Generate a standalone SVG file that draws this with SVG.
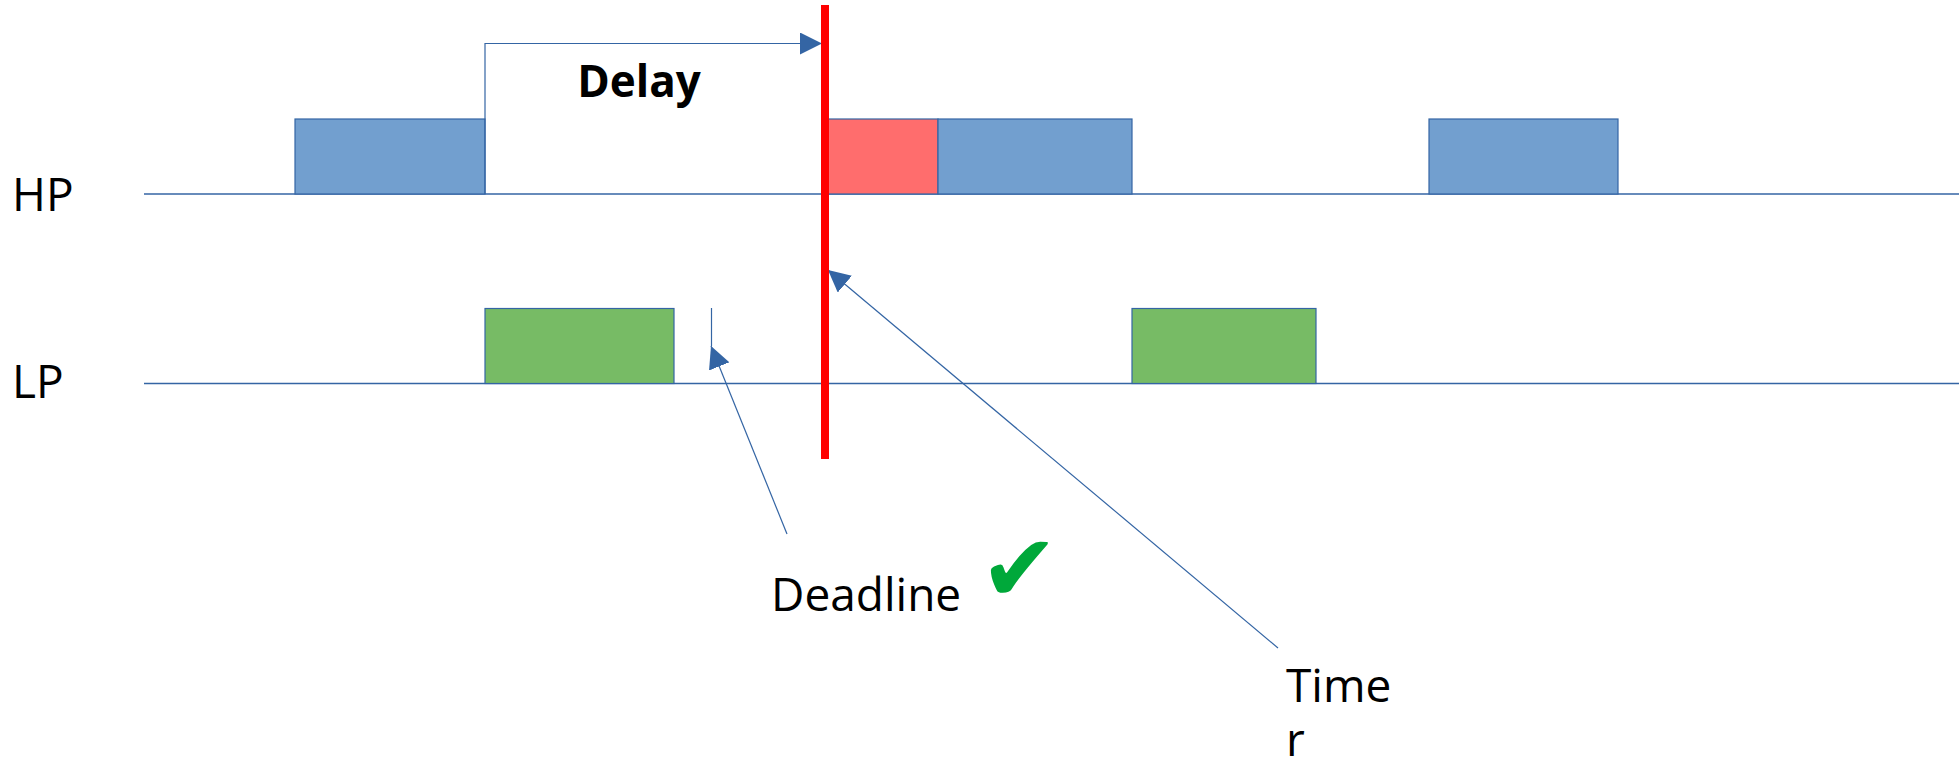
<svg xmlns="http://www.w3.org/2000/svg" width="1959" height="759" viewBox="0 0 1959 759">
<style>
.lbl{font-family:"Open Sans","Noto Sans","DejaVu Sans",sans-serif;font-size:46px;fill:#000}
.bold{font-family:"Open Sans","Noto Sans",sans-serif;font-size:44px;font-weight:bold;fill:#000}
.hp{fill:#729fcf;stroke:#3465a4;stroke-width:1.2}
.lp{fill:#77bb65;stroke:#3465a4;stroke-width:1.2}
.miss{fill:#ff6d6d;stroke:#3465a4;stroke-width:1.2}
.axis{stroke:#3465a4;stroke-width:1.5;fill:none}
.conn{stroke:#3465a4;stroke-width:1.2;fill:none}
</style>
<defs>
<marker id="arr" markerUnits="userSpaceOnUse" markerWidth="22" markerHeight="22" refX="22" refY="11" orient="auto" viewBox="0 0 22 22">
<path d="M0,0 L22,11 L0,22 z" fill="#3465a4"/>
</marker>
</defs>
<rect width="1959" height="759" fill="#fff"/>
<g id="labels">
<text class="lbl" x="12" y="211">HP</text>
<text class="lbl" x="12" y="398">LP</text>
</g>
<g id="axes">
<line class="axis" x1="144" y1="194" x2="1959" y2="194"/>
<line class="axis" x1="144" y1="383.5" x2="1959" y2="383.5"/>
</g>
<g id="hp1"><rect class="hp" x="295" y="119" width="190" height="75"/></g>
<g id="hp2"><rect class="miss" x="825" y="119" width="113" height="75"/></g>
<g id="hp3"><rect class="hp" x="938" y="119" width="194" height="75"/></g>
<g id="hp4"><rect class="hp" x="1429" y="119" width="189" height="75"/></g>
<g id="lp1"><rect class="lp" x="485" y="308.5" width="189" height="75"/></g>
<g id="lp2"><rect class="lp" x="1132" y="308.5" width="184" height="75"/></g>
<g id="deadline-mark"><line class="conn" x1="711.5" y1="308" x2="711.5" y2="346"/></g>
<g id="connectors">
<polyline class="conn" points="485,194 485,43.5 822,43.5" marker-end="url(#arr)"/>
<line class="conn" x1="787" y1="534" x2="711" y2="346" marker-end="url(#arr)"/>
<line class="conn" x1="1278" y1="648" x2="828" y2="270" marker-end="url(#arr)"/>
</g>
<g id="timer-line"><rect x="821" y="5" width="8" height="454" fill="#ff0000"/></g>
<g id="delay"><text class="bold" x="639" y="97" text-anchor="middle">Delay</text></g>
<g id="deadline">
<text class="lbl" x="771" y="611">Deadline</text>
<text x="980" y="601" font-family="DejaVu Sans,sans-serif" font-size="94" fill="#00a83a">✔</text>
</g>
<g id="timer">
<text class="lbl" x="1286" y="702">Time<tspan x="1286" y="756">r</tspan></text>
</g>
</svg>
